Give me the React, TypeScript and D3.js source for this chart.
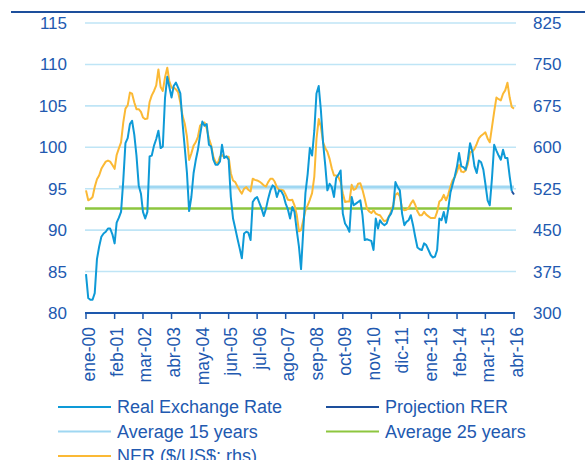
import React, { useEffect, useRef } from "react";
import * as d3 from "d3";

// monthly series, ene-00 .. abr-16
const rer = [
  84.7, 81.8, 81.6, 81.6, 82.4, 86.5, 88.0, 89.2, 89.6, 89.8, 90.2, 90.2,
  89.5, 88.4, 90.9, 91.5, 92.2, 96.0, 100.5, 101.1, 102.8, 103.2, 101.5, 99.0,
  95.4, 94.4, 92.2, 91.4, 92.2, 98.9, 99.0, 100.2, 101.0, 102.0, 99.9, 100.1,
  106.0, 108.5, 107.3, 106.0, 107.4, 107.8, 107.2, 106.5, 102.9, 100.0, 96.9, 92.3,
  94.0, 96.9, 98.4, 99.7, 101.5, 103.1, 102.6, 102.8, 100.3, 100.1, 98.5, 97.9,
  97.9, 98.3, 100.3, 98.7, 98.9, 98.5, 94.0, 91.4, 90.2, 89.0, 87.8, 86.6,
  89.6, 89.8, 89.7, 88.8, 93.4, 93.8, 94.0, 93.3, 92.6, 91.7, 92.6, 93.8,
  94.8, 95.4, 95.2, 94.0, 94.8, 94.7, 94.2, 93.2, 92.5, 91.4, 92.8, 92.2,
  90.0, 88.0, 85.3, 90.0, 94.5, 96.8, 99.9, 99.0, 102.0, 106.5, 107.4, 104.5,
  100.5, 97.7, 94.8, 95.6, 95.2, 94.0, 96.3, 96.7, 97.2, 92.0, 90.8, 90.4,
  89.8, 94.0, 93.0, 93.2, 93.4, 93.6, 91.8, 88.8, 88.9, 88.8, 88.7, 87.6,
  91.4, 90.2, 91.2, 90.8, 90.6, 90.8, 91.6, 92.0, 92.8, 95.8, 95.2, 94.8,
  92.0, 90.6, 91.0, 91.2, 91.8, 90.6, 89.2, 87.9, 87.7, 87.6, 88.4, 88.2,
  87.6, 87.0, 86.7, 86.8, 87.6, 91.4, 91.2, 92.2, 90.9, 92.5, 94.5, 95.5,
  96.5, 97.7, 99.3, 97.7, 97.6, 97.3, 98.5, 100.5, 99.5, 97.7, 96.9, 98.4,
  98.2, 97.3, 95.6, 93.6, 93.0, 96.3, 100.3, 99.6, 99.0, 98.5, 99.7, 98.7,
  98.7, 96.5, 94.7,
];

// projection RER: last two months
const projection = [94.7, 94.3];
const projectionStart = 194;

// NER ($/US$, right axis)
const ner = [
  522, 504, 506, 510, 528, 542, 549, 561, 568, 574, 576, 574,
  568, 561, 586, 598, 609, 645, 670, 676, 699, 697, 681, 669,
  669, 664, 654, 651, 652, 682, 694, 702, 712, 741, 709, 702,
  727, 744, 720, 708, 708, 705, 700, 681, 657, 643, 619, 577,
  589, 603, 609, 619, 639, 643, 645, 634, 616, 604, 583, 573,
  571, 583, 586, 582, 583, 583, 553, 540, 537, 529, 522, 516,
  525, 528, 523, 520, 543, 541, 540, 538, 535, 531, 529, 537,
  543, 543, 538, 528, 523, 523, 522, 514, 505, 504, 505, 495,
  478, 448, 450, 468, 486, 495, 505, 517, 547, 615, 651, 637,
  609, 598, 592, 579, 562, 549, 549, 546, 537, 517, 501, 502,
  502, 532, 523, 525, 534, 535, 523, 507, 489, 484, 481, 486,
  480, 478, 477, 471, 466, 468, 474, 484, 496, 514, 517, 511,
  489, 486, 487, 490, 498, 504, 496, 484, 477, 477, 483, 478,
  475, 472, 472, 472, 483, 502, 505, 514, 504, 514, 529, 540,
  546, 556, 568, 556, 555, 558, 570, 591, 592, 597, 606, 616,
  621, 624, 627, 616, 609, 637, 664, 690, 687, 685, 697, 703,
  717, 690, 673, 670,
];

const avg15 = 95.25;
const avg15Start = 15;
const avg25 = 92.6;

const xTickLabels = [
  "ene-00", "feb-01", "mar-02", "abr-03", "may-04", "jun-05", "jul-06", "ago-07",
  "sep-08", "oct-09", "nov-10", "dic-11", "ene-13", "feb-14", "mar-15", "abr-16",
];
const leftTicks = [80, 85, 90, 95, 100, 105, 110, 115];
const rightTicks = [300, 375, 450, 525, 600, 675, 750, 825];

const legendItems = [
  { label: "Real Exchange Rate", color: "#0e9ad7" },
  { label: "Projection RER", color: "#1d4f9c" },
  { label: "Average 15 years", color: "#9fd7f2" },
  { label: "Average 25 years", color: "#8dc63f" },
  { label: "NER ($/US$; rhs)", color: "#fbb935" },
];

const W = 585;
const H = 460;
const textColor = "#2259b0";
const font = "Arial, 'Liberation Sans', sans-serif";

export default function App() {
  const svgRef = useRef<SVGSVGElement>(null);

  useEffect(() => {
    const svg = d3.select(svgRef.current);
    svg.selectAll("*").remove();

    const start = new Date(2000, 0, 1);
    const month = (i: number) => d3.timeMonth.offset(start, i);

    const x = d3
      .scaleTime()
      .domain([start, month(195)])
      .range([86, 514]);
    const yL = d3.scaleLinear().domain([80, 115]).range([313, 23]);
    const yR = d3.scaleLinear().domain([300, 825]).range([313, 23]);

    // top rule
    svg
      .append("line")
      .attr("x1", 11)
      .attr("x2", W)
      .attr("y1", 12)
      .attr("y2", 12)
      .attr("stroke", "#1d4f9c")
      .attr("stroke-width", 2);

    // gridlines
    svg
      .append("g")
      .selectAll("line")
      .data(leftTicks.slice(1))
      .join("line")
      .attr("x1", 85)
      .attr("x2", 516)
      .attr("y1", (d) => yL(d))
      .attr("y2", (d) => yL(d))
      .attr("stroke", "#bfe5f6")
      .attr("stroke-width", 1.6);

    // left labels
    svg
      .append("g")
      .selectAll("text")
      .data(leftTicks)
      .join("text")
      .attr("x", 67)
      .attr("y", (d) => yL(d))
      .attr("dy", "0.35em")
      .attr("text-anchor", "end")
      .attr("font-family", font)
      .attr("font-size", 17)
      .attr("fill", textColor)
      .text((d) => d);

    // right labels
    svg
      .append("g")
      .selectAll("text")
      .data(rightTicks)
      .join("text")
      .attr("x", 533)
      .attr("y", (d) => yR(d))
      .attr("dy", "0.35em")
      .attr("font-family", font)
      .attr("font-size", 17)
      .attr("fill", textColor)
      .text((d) => d);

    // average lines
    svg
      .append("line")
      .attr("x1", x(month(avg15Start)))
      .attr("x2", x(month(195)))
      .attr("y1", yL(avg15))
      .attr("y2", yL(avg15))
      .attr("stroke", "#9fd7f2")
      .attr("stroke-width", 2.5);
    svg
      .append("line")
      .attr("x1", 85)
      .attr("x2", 512)
      .attr("y1", yL(avg25))
      .attr("y2", yL(avg25))
      .attr("stroke", "#8dc63f")
      .attr("stroke-width", 2.5);

    const lineL = d3
      .line<number>()
      .x((_, i) => x(month(i)))
      .y((d) => yL(d));
    const lineR = d3
      .line<number>()
      .x((_, i) => x(month(i)))
      .y((d) => yR(d));
    const lineP = d3
      .line<number>()
      .x((_, i) => x(month(projectionStart + i)))
      .y((d) => yL(d));

    svg
      .append("path")
      .attr("d", lineR(ner))
      .attr("fill", "none")
      .attr("stroke", "#fbb935")
      .attr("stroke-width", 2)
      .attr("stroke-linejoin", "round");
    svg
      .append("path")
      .attr("d", lineL(rer))
      .attr("fill", "none")
      .attr("stroke", "#0e9ad7")
      .attr("stroke-width", 2)
      .attr("stroke-linejoin", "round");
    svg
      .append("path")
      .attr("d", lineP(projection))
      .attr("fill", "none")
      .attr("stroke", "#1d4f9c")
      .attr("stroke-width", 2);

    // x axis
    const ax = svg.append("g").attr("transform", "translate(0,313)");
    ax.append("line")
      .attr("x1", 85)
      .attr("x2", 515)
      .attr("stroke", "#1d58ad")
      .attr("stroke-width", 2);
    const ticks = ax
      .selectAll("g.tick")
      .data(xTickLabels)
      .join("g")
      .attr("class", "tick")
      .attr("transform", (_, i) => `translate(${x(month(i * 13))},0)`);
    ticks
      .append("line")
      .attr("y1", 0)
      .attr("y2", 6)
      .attr("stroke", "#1d58ad")
      .attr("stroke-width", 1.5);
    ticks
      .append("text")
      .attr("transform", "translate(8.5,14) rotate(-90)")
      .attr("text-anchor", "end")
      .attr("font-family", font)
      .attr("font-size", 17.5)
      .attr("fill", textColor)
      .text((d) => d);

    // legend
    const lg = svg
      .append("g")
      .selectAll("g")
      .data(legendItems)
      .join("g")
      .attr(
        "transform",
        (_, i) => `translate(${i % 2 === 0 ? 58 : 326},${407 + Math.floor(i / 2) * 24.5})`
      );
    lg.append("line")
      .attr("x1", 0)
      .attr("x2", 53)
      .attr("stroke", (d) => d.color)
      .attr("stroke-width", 2);
    lg.append("text")
      .attr("x", 59)
      .attr("dy", "0.35em")
      .attr("font-family", font)
      .attr("font-size", 18)
      .attr("fill", textColor)
      .text((d) => d.label);
  }, []);

  return (
    <svg
      ref={svgRef}
      width={W}
      height={H}
      style={{ position: "absolute", left: 0, top: 0, background: "#fff" }}
    />
  );
}
